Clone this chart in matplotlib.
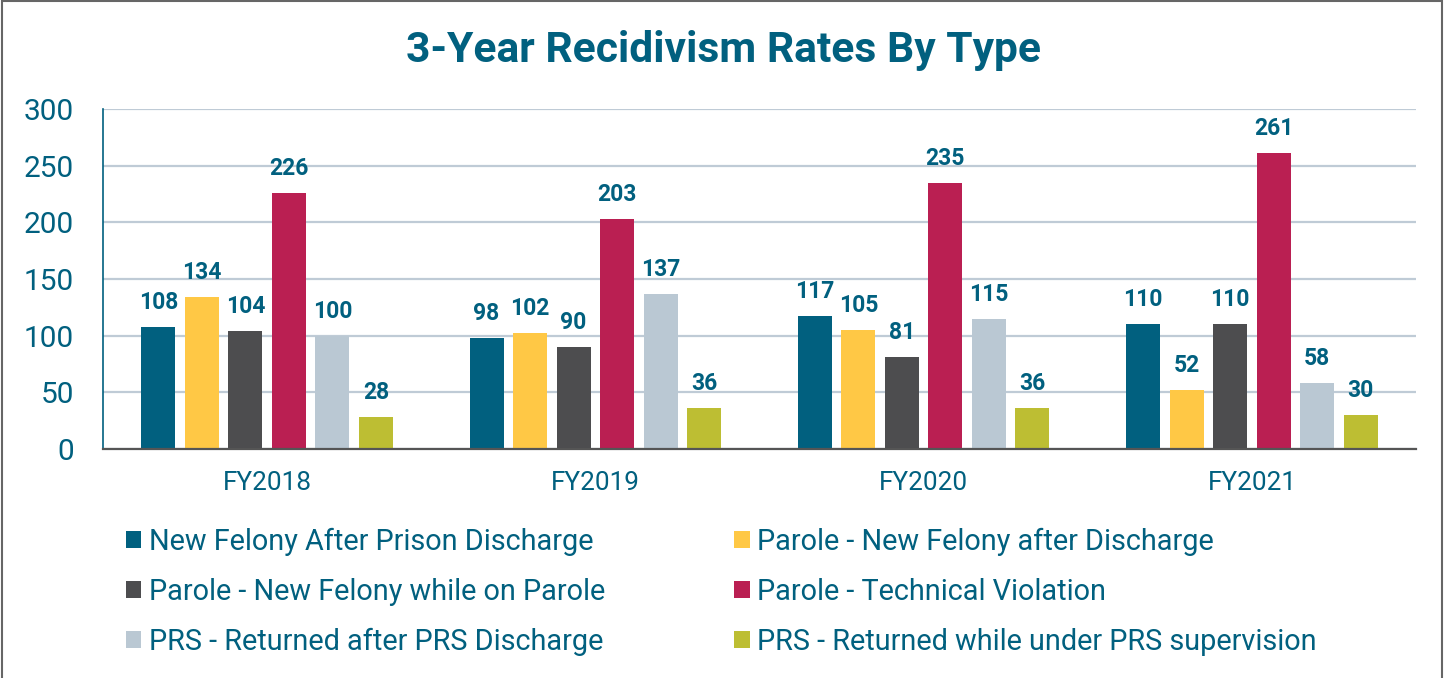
import matplotlib
matplotlib.use('Agg')
import matplotlib.pyplot as plt
from matplotlib.patches import Patch, Rectangle
import numpy as np

plt.rcParams['font.family'] = ['Roboto', 'DejaVu Sans']

years = ['FY2018', 'FY2019', 'FY2020', 'FY2021']
series = [
    'New Felony After Prison Discharge',
    'Parole - New Felony after Discharge',
    'Parole - New Felony while on Parole',
    'Parole - Technical Violation',
    'PRS - Returned after PRS Discharge',
    'PRS - Returned while under PRS supervision',
]
new_felony_prison = [108, 98, 117, 110]
parole_after = [134, 102, 105, 52]
parole_while = [104, 90, 81, 110]
parole_technical = [226, 203, 235, 261]
prs_after = [100, 137, 115, 58]
prs_while = [28, 36, 36, 30]
values = [new_felony_prison, parole_after, parole_while, parole_technical, prs_after, prs_while]
colors = ['#01607F', '#FFC845', '#4D4D4F', '#BA1F52', '#BAC8D3', '#BDBE33']

teal = '#01607F'

fig = plt.figure(figsize=(14.45, 6.78), dpi=100)
ax = fig.add_axes([103 / 1445, 1 - 449 / 678, 1313 / 1445, 340 / 678])

x = np.arange(len(years))
pitch = 0.1326
width = 0.1037
for j, (name, vals, c) in enumerate(zip(series, values, colors)):
    pos = x + (j - 2.5) * pitch
    ax.bar(pos, vals, width=width, color=c, zorder=3, label=name)
    for px, v in zip(pos, vals):
        ax.annotate(str(v), (px, v), xytext=(0, 13), textcoords='offset points',
                    ha='center', va='baseline', fontsize=16.5, fontweight='bold',
                    color=teal)

ax.set_xlim(-0.5, 3.5)
ax.set_ylim(0, 300)
ax.set_yticks(range(0, 301, 50))
ax.set_xticks(x)
ax.set_xticklabels(years)
ax.tick_params(axis='y', length=0, pad=21, labelsize=21.5, labelcolor=teal)
ax.tick_params(axis='x', length=0, pad=16, labelsize=18.8, labelcolor=teal)
ax.grid(axis='y', color='#BFCBD6', linewidth=1.6, zorder=0)
ax.set_axisbelow(True)
for s in ['top', 'right']:
    ax.spines[s].set_visible(False)
ax.spines['left'].set_color(teal)
ax.spines['left'].set_linewidth(1.2)
ax.spines['bottom'].set_color('#555555')
ax.spines['bottom'].set_linewidth(1.6)
ax.spines['bottom'].set_zorder(4)

fig.text(724 / 1445, 1 - 62 / 678, '3-Year Recidivism Rates By Type', ha='center',
         va='baseline', fontsize=30.7, fontweight='bold', color=teal)

# legend is filled row by row in the reference
order = [0, 2, 4, 1, 3, 5]
handles = [Patch(facecolor=colors[i], edgecolor='none') for i in order]
labels = [series[i] for i in order]
leg = fig.legend(handles, labels, loc='upper left', bbox_to_anchor=(126 / 1445, 1 - 528 / 678),
                 ncols=2, frameon=False, fontsize=20.8, handlelength=0.53, handleheight=0.53,
                 handletextpad=0.26, columnspacing=4.47, labelspacing=0.755, borderpad=0,
                 borderaxespad=0)
for t in leg.get_texts():
    t.set_color(teal)

fig.patches.append(Rectangle((2 / 1445, -0.1), 1440 / 1445, 1.1 - 1.5 / 678, transform=fig.transFigure,
                             fill=False, edgecolor='#666666', linewidth=1.5))

fig.savefig('out.png', dpi=100)
